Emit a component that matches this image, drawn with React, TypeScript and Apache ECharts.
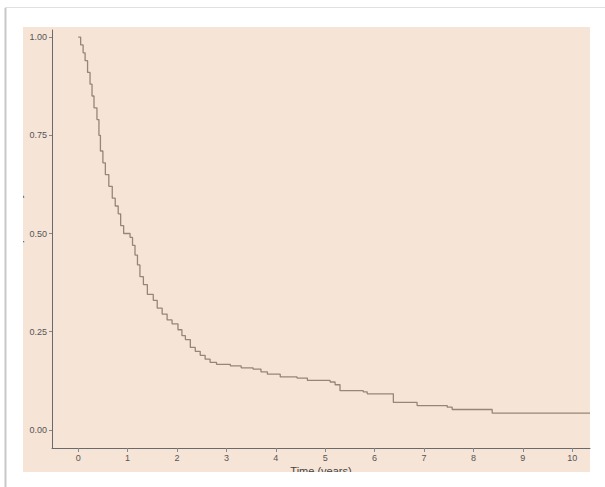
import React, { useEffect, useRef } from "react";
import * as echarts from "echarts";

const times = [
  0, 0.05, 0.1, 0.14, 0.19, 0.24, 0.28, 0.32, 0.38, 0.42, 0.45, 0.5, 0.55, 0.62, 0.69, 0.75, 0.81, 0.86, 0.92,
  1.05, 1.1, 1.15, 1.2, 1.25, 1.32, 1.4, 1.52, 1.6, 1.7, 1.8, 1.9, 2.02, 2.1, 2.17, 2.27, 2.37, 2.47, 2.57,
  2.67, 2.8, 3.08, 3.3, 3.54, 3.7, 3.83, 4.09, 4.43, 4.64, 5.1, 5.2, 5.3, 5.77, 5.85, 6.38, 6.86, 7.47, 7.57,
  8.38, 10.36,
];
const survival = [
  1.0, 0.98, 0.96, 0.94, 0.91, 0.88, 0.85, 0.82, 0.79, 0.75, 0.71, 0.68, 0.65, 0.62, 0.59, 0.57, 0.55, 0.52, 0.5,
  0.49, 0.47, 0.445, 0.42, 0.39, 0.37, 0.345, 0.33, 0.31, 0.295, 0.28, 0.27, 0.255, 0.24, 0.23, 0.21, 0.2, 0.19,
  0.18, 0.172, 0.167, 0.163, 0.158, 0.155, 0.148, 0.142, 0.135, 0.132, 0.126, 0.122, 0.115, 0.1, 0.097, 0.092,
  0.07, 0.062, 0.058, 0.052, 0.043, 0.043,
];
const yTicks = [0, 0.25, 0.5, 0.75, 1.0];
const xTicks = [0, 1, 2, 3, 4, 5, 6, 7, 8, 9, 10];
const xTitle = "Time (years)";
const yTitle = "Survival probability";

export default function App() {
  const ref = useRef<HTMLDivElement>(null);
  useEffect(() => {
    if (!ref.current) return;
    const chart = echarts.init(ref.current, null, { renderer: "svg" });
    const labelStyle = { color: "#555", fontSize: 9, fontFamily: "Liberation Sans, Arial, sans-serif" };
    chart.setOption({
      animation: false,
      backgroundColor: "#ffffff",
      graphic: [
        { type: "rect", z: -10, shape: { x: 23, y: 27, width: 567, height: 445 }, style: { fill: "#f6e4d7" } },
        { type: "line", z: -10, shape: { x1: 5.5, y1: 8, x2: 5.5, y2: 487 }, style: { stroke: "#c8c8c8", lineWidth: 2 } },
        { type: "line", z: -10, shape: { x1: 5, y1: 7.5, x2: 605, y2: 7.5 }, style: { stroke: "#e0e0e0", lineWidth: 1 } },
        { type: "rect", z: 100, shape: { x: 7, y: 472, width: 598, height: 15 }, style: { fill: "#ffffff" } },
        { type: "rect", z: 100, shape: { x: 7, y: 27, width: 16, height: 445 }, style: { fill: "#ffffff" } },
      ],
      grid: { left: 52, right: 15, top: 30, bottom: 39, containLabel: false, outerBoundsMode: "none" },
      xAxis: {
        type: "value",
        min: -0.53,
        max: 10.36,
        name: xTitle,
        nameLocation: "middle",
        nameGap: 17,
        nameMoveOverlap: false,
        nameTextStyle: { ...labelStyle, fontSize: 11, color: "#444" },
        axisLine: { show: true, onZero: false, lineStyle: { color: "#6a6a6a", width: 1 } },
        axisTick: { show: true, customValues: xTicks, length: 4, lineStyle: { color: "#888" } },
        axisLabel: { customValues: xTicks, ...labelStyle, margin: 5, formatter: (v: number) => String(v) },
        splitLine: { show: false },
      },
      yAxis: {
        type: "value",
        min: -0.046,
        max: 1.018,
        name: yTitle,
        nameLocation: "middle",
        nameRotate: 90,
        nameGap: 29,
        nameMoveOverlap: false,
        nameTextStyle: { ...labelStyle, fontSize: 11, color: "#444" },
        axisLine: { show: true, onZero: false, lineStyle: { color: "#6a6a6a", width: 1 } },
        axisTick: { show: true, customValues: yTicks, length: 3, lineStyle: { color: "#888" } },
        axisLabel: { customValues: yTicks, ...labelStyle, margin: 5, formatter: (v: number) => v.toFixed(2) },
        splitLine: { show: false },
      },
      series: [
        {
          type: "line",
          step: "end",
          showSymbol: false,
          data: times.map((t, i) => [t, survival[i]]),
          lineStyle: { color: "#958676", width: 1.3 },
        },
      ],
    });
    return () => chart.dispose();
  }, []);
  return <div ref={ref} style={{ position: "fixed", left: 0, top: 0, width: 605, height: 487 }} />;
}
